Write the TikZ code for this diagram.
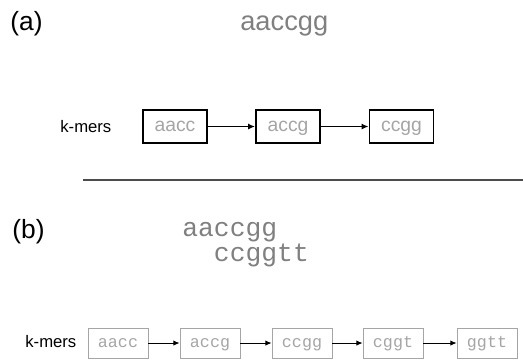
\documentclass[tikz,border=0pt]{standalone}
\usepackage{fontspec}
\setmainfont{Liberation Sans}
\newfontfamily\seqfont{Liberation Mono}
\usepackage{tikz}
\usetikzlibrary{positioning,arrows.meta}
\definecolor{seqgray}{RGB}{128, 128, 128}
\definecolor{boxgray}{RGB}{165, 165, 165}

\begin{document}
\begin{tikzpicture}[
    x=0.02cm, y=-0.02cm,
    panel/.style={font=\fontsize{15}{18}\selectfont, inner sep=0pt},
    label/.style={font=\fontsize{9.5}{11}\selectfont, inner sep=0pt},
    kbox/.style={rectangle, draw=black, line width=1.1pt, minimum width=1.28cm, minimum height=0.66cm, inner sep=0pt, text height=1.45ex, text depth=0.45ex, text=boxgray, font=\fontsize{11}{13}\selectfont},
    kboxlight/.style={rectangle, draw=boxgray, line width=0.5pt, minimum width=1.2cm, minimum height=0.6cm, inner sep=0pt, text height=1.45ex, text depth=0.45ex, text=boxgray, font=\seqfont\fontsize{9.5}{11}\selectfont},
    link/.style={draw=black, line width=0.9pt, -{Latex[length=4pt,width=3.5pt]}},
    linklight/.style={draw=black, line width=0.5pt, -{Latex[length=3.5pt,width=3pt]}}
]
\useasboundingbox (0,0) rectangle (523,360);

% Panel (a)
\node[panel, anchor=west] (laba) at (10,24) {(a)};
\node[panel, text=seqgray, anchor=west, font=\fontsize{15.5}{18}\selectfont] (seqa) at (240,26) {aaccgg};

\node[label, anchor=west] (kmera) at (60,127) {k-mers};
\node[kbox] (a1) at (175,126.5) {aacc};
\node[kbox] (a2) at (288,126.5) {accg};
\node[kbox] (a3) at (401.5,126.5) {ccgg};
\draw[link] (a1.east) -- (a2.west);
\draw[link] (a2.east) -- (a3.west);

% Separator
\coordinate (sepl) at (83,180);
\coordinate (sepr) at (523,180);
\draw[draw=black!70, line width=0.9pt] (sepl) -- (sepr);

% Panel (b)
\node[panel, anchor=west] (labb) at (12,232) {(b)};
\node[panel, text=seqgray, anchor=north west, align=left, font=\seqfont\fontsize{15}{13}\selectfont] (seqb) at (182,222) {aaccgg\\\ \ ccggtt};

\node[label, anchor=west] (kmerb) at (25,342) {k-mers};
\node[kboxlight] (b1) at (118,343) {aacc};
\node[kboxlight] (b2) at (210,343) {accg};
\node[kboxlight] (b3) at (302,343) {ccgg};
\node[kboxlight] (b4) at (393,343) {cggt};
\node[kboxlight] (b5) at (487,343) {ggtt};
\draw[linklight] (b1.east) -- (b2.west);
\draw[linklight] (b2.east) -- (b3.west);
\draw[linklight] (b3.east) -- (b4.west);
\draw[linklight] (b4.east) -- (b5.west);

\end{tikzpicture}
\end{document}
